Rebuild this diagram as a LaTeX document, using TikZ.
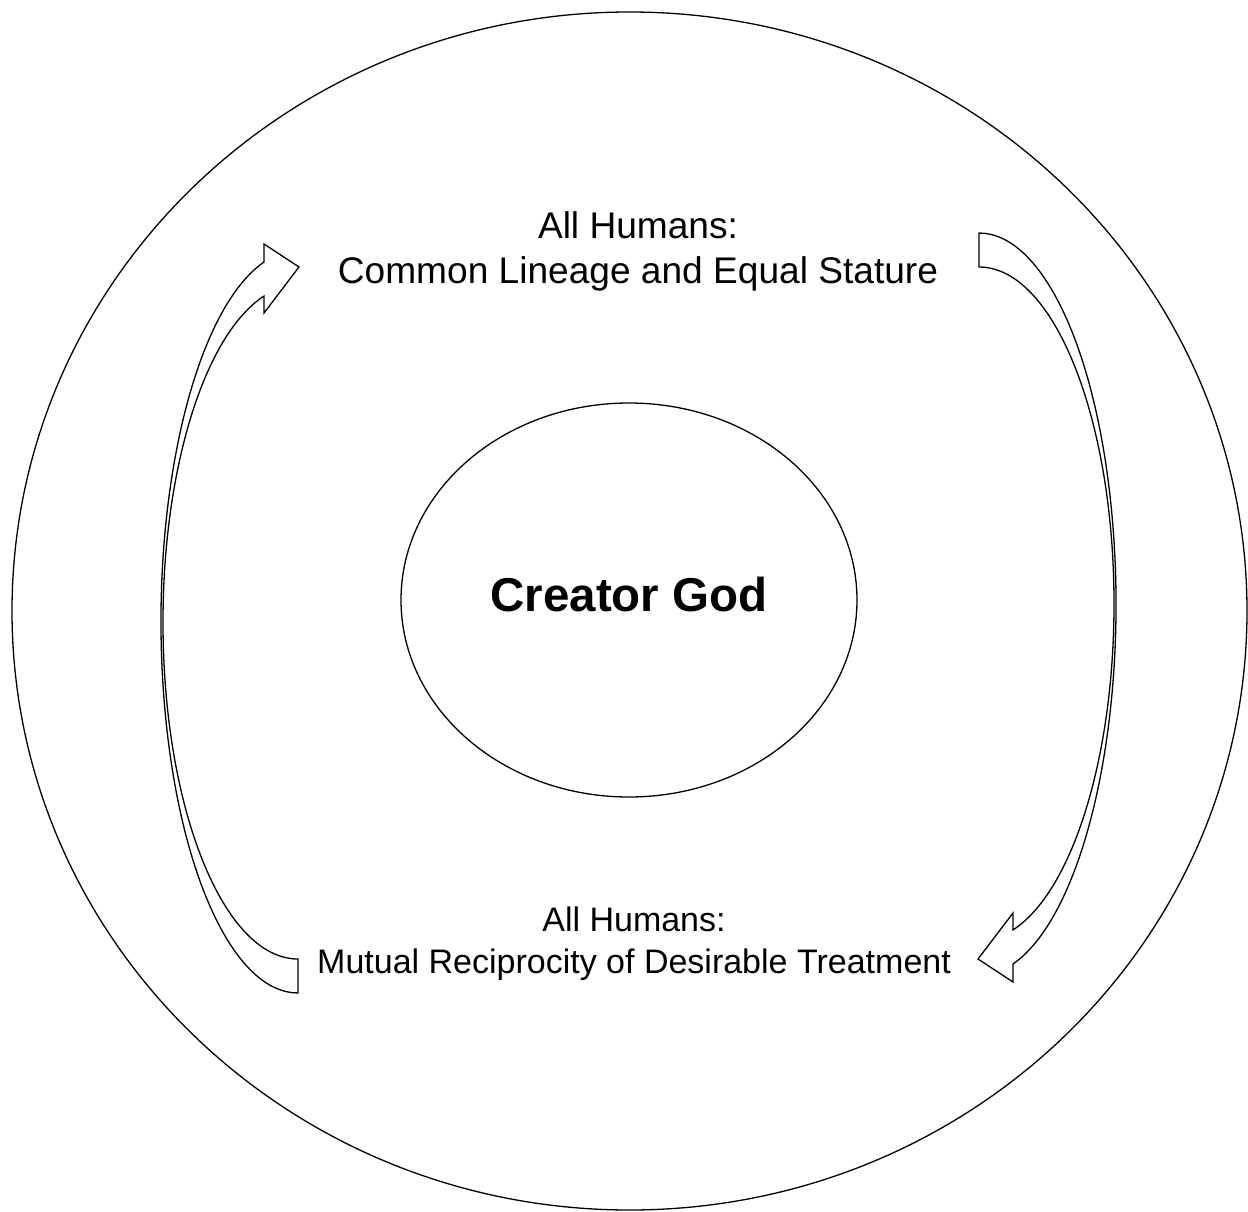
\documentclass[tikz,border=0pt]{standalone}
\usepackage{fontspec}
\setmainfont{Liberation Sans}
\tikzset{
  shapeline/.style={draw=black, line width=1.3pt, fill=white},
  toplbl/.style={anchor=base, inner sep=0pt, font=\fontsize{37.1}{44}\selectfont},
  botlbl/.style={anchor=base, inner sep=0pt, font=\fontsize{34}{40}\selectfont},
  godlbl/.style={anchor=base, inner sep=0pt, font=\bfseries\fontsize{47.5}{57}\selectfont},
}
\begin{document}
\begin{tikzpicture}[x=1pt, y=-1pt]
\useasboundingbox (0,0) rectangle (1248,1212);
\fill[white] (0,0) rectangle (1248,1212);
% outer and inner ellipses
\draw[shapeline] (629.5,611) ellipse [x radius=617.5, y radius=599];
\draw[shapeline] (629,600) ellipse [x radius=228, y radius=197];
% left curved arrow (tail at bottom, head at top)
\draw[shapeline] (264,262)
  arc[start angle=255.63, end angle=90, x radius=137, y radius=371.3]
  -- (298,959)
  arc[start angle=90, end angle=255.41, x radius=135, y radius=336.9]
  -- (264,313) -- (299,267) -- (264,244) -- cycle;
% right curved arrow (point-symmetric copy)
\begin{scope}[rotate around={180:(638.5,613)}]
\draw[shapeline] (264,262)
  arc[start angle=255.63, end angle=90, x radius=137, y radius=371.3]
  -- (298,959)
  arc[start angle=90, end angle=255.41, x radius=135, y radius=336.9]
  -- (264,313) -- (299,267) -- (264,244) -- cycle;
\end{scope}
% texts
\node[godlbl] (god) at (629,611) {Creator God};
\node[toplbl] (tophead) at (638,238) {All Humans:};
\node[toplbl] (topline) at (638,283) {Common Lineage and Equal Stature};
\node[botlbl] (bothead) at (634,931) {All Humans:};
\node[botlbl] (botline) at (634,973) {Mutual Reciprocity of Desirable Treatment};
\end{tikzpicture}
\end{document}
